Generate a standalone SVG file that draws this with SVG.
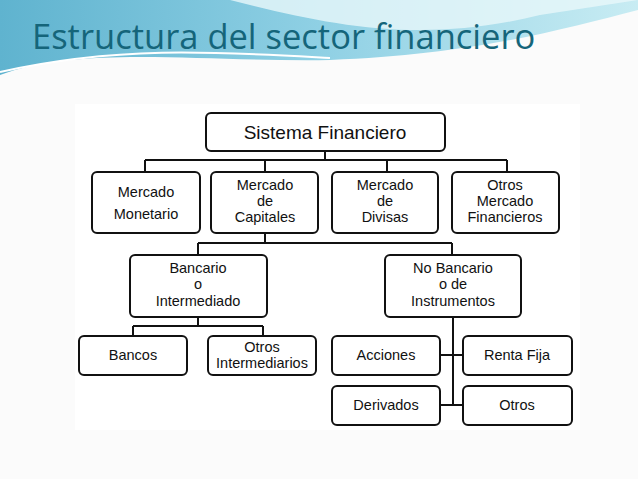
<svg xmlns="http://www.w3.org/2000/svg" width="638" height="479" viewBox="0 0 638 479">
<defs>
<linearGradient id="sw" x1="0" y1="0" x2="1" y2="0">
<stop offset="0" stop-color="#5fb3cf"/><stop offset="0.5" stop-color="#8fd0e4"/><stop offset="1" stop-color="#c8ecf3"/>
</linearGradient>
<style>
.b{fill:#fff;stroke:#111;stroke-width:2}
.t{font-family:"Liberation Sans",Arial,sans-serif;font-size:14.5px;fill:#111;text-anchor:middle}
.h{font-size:19px}
.c{stroke:#111;stroke-width:2;fill:none}
</style>
</defs>
<rect width="638" height="479" fill="#fbfbfb"/>
<path d="M0 0H638V10C560 30 470 55 330 60 C200 62 80 45 0 75Z" fill="url(#sw)"/>
<path d="M230 0 C330 25 420 45 540 15 L638 0Z" fill="#e9f7fa" opacity="0.8"/>
<path d="M0 72 C120 45 220 52 330 58" stroke="#fff" stroke-width="2" fill="none"/>
<text x="32" y="49" font-family="Open Sans,Lato,sans-serif" font-size="34.5" fill="#15657a">Estructura del sector financiero</text>
<rect x="75" y="104" width="505" height="326" fill="#fff"/>
<g id="connectors" class="c">
<path d="M325 151V160M145 160H507M145 160V172M265 160V172M387 160V172M507 160V172"/>
<path d="M265 233V243M198 243H452M198 243V255M452 243V255"/>
<path d="M198 317V326M133 326H263M133 326V336M263 326V336"/>
<path d="M453 317V405M440 355H463M440 405H463"/>
</g>
<g id="n1"><rect class="b" x="206" y="113" width="239" height="38" rx="5"/><text class="t h" x="325" y="139">Sistema  Financiero</text></g>
<g id="n2"><rect class="b" x="92" y="172" width="108" height="61" rx="5"/><text class="t" x="146" y="197">Mercado</text><text class="t" x="146" y="219">Monetario</text></g>
<g id="n3"><rect class="b" x="211" y="172" width="107" height="61" rx="5"/><text class="t" x="265" y="190">Mercado</text><text class="t" x="265" y="206">de</text><text class="t" x="265" y="222">Capitales</text></g>
<g id="n4"><rect class="b" x="332" y="172" width="106" height="61" rx="5"/><text class="t" x="385" y="190">Mercado</text><text class="t" x="385" y="206">de</text><text class="t" x="385" y="222">Divisas</text></g>
<g id="n5"><rect class="b" x="452" y="172" width="107" height="61" rx="5"/><text class="t" x="505" y="190">Otros</text><text class="t" x="505" y="206">Mercado</text><text class="t" x="505" y="222">Financieros</text></g>
<g id="n6"><rect class="b" x="130" y="255" width="137" height="62" rx="5"/><text class="t" x="198" y="273">Bancario</text><text class="t" x="198" y="289">o</text><text class="t" x="198" y="306">Intermediado</text></g>
<g id="n7"><rect class="b" x="385" y="255" width="136" height="62" rx="5"/><text class="t" x="453" y="273">No Bancario</text><text class="t" x="453" y="289">o de</text><text class="t" x="453" y="306">Instrumentos</text></g>
<g id="n8"><rect class="b" x="79" y="336" width="108" height="39" rx="5"/><text class="t" x="133" y="360">Bancos</text></g>
<g id="n9"><rect class="b" x="208" y="336" width="108" height="39" rx="5"/><text class="t" x="262" y="352">Otros</text><text class="t" x="262" y="368">Intermediarios</text></g>
<g id="n10"><rect class="b" x="332" y="336" width="108" height="39" rx="5"/><text class="t" x="386" y="360">Acciones</text></g>
<g id="n11"><rect class="b" x="463" y="336" width="109" height="39" rx="5"/><text class="t" x="517" y="360">Renta Fija</text></g>
<g id="n12"><rect class="b" x="332" y="386" width="108" height="39" rx="5"/><text class="t" x="386" y="410">Derivados</text></g>
<g id="n13"><rect class="b" x="463" y="386" width="109" height="39" rx="5"/><text class="t" x="517" y="410">Otros</text></g>
</svg>
